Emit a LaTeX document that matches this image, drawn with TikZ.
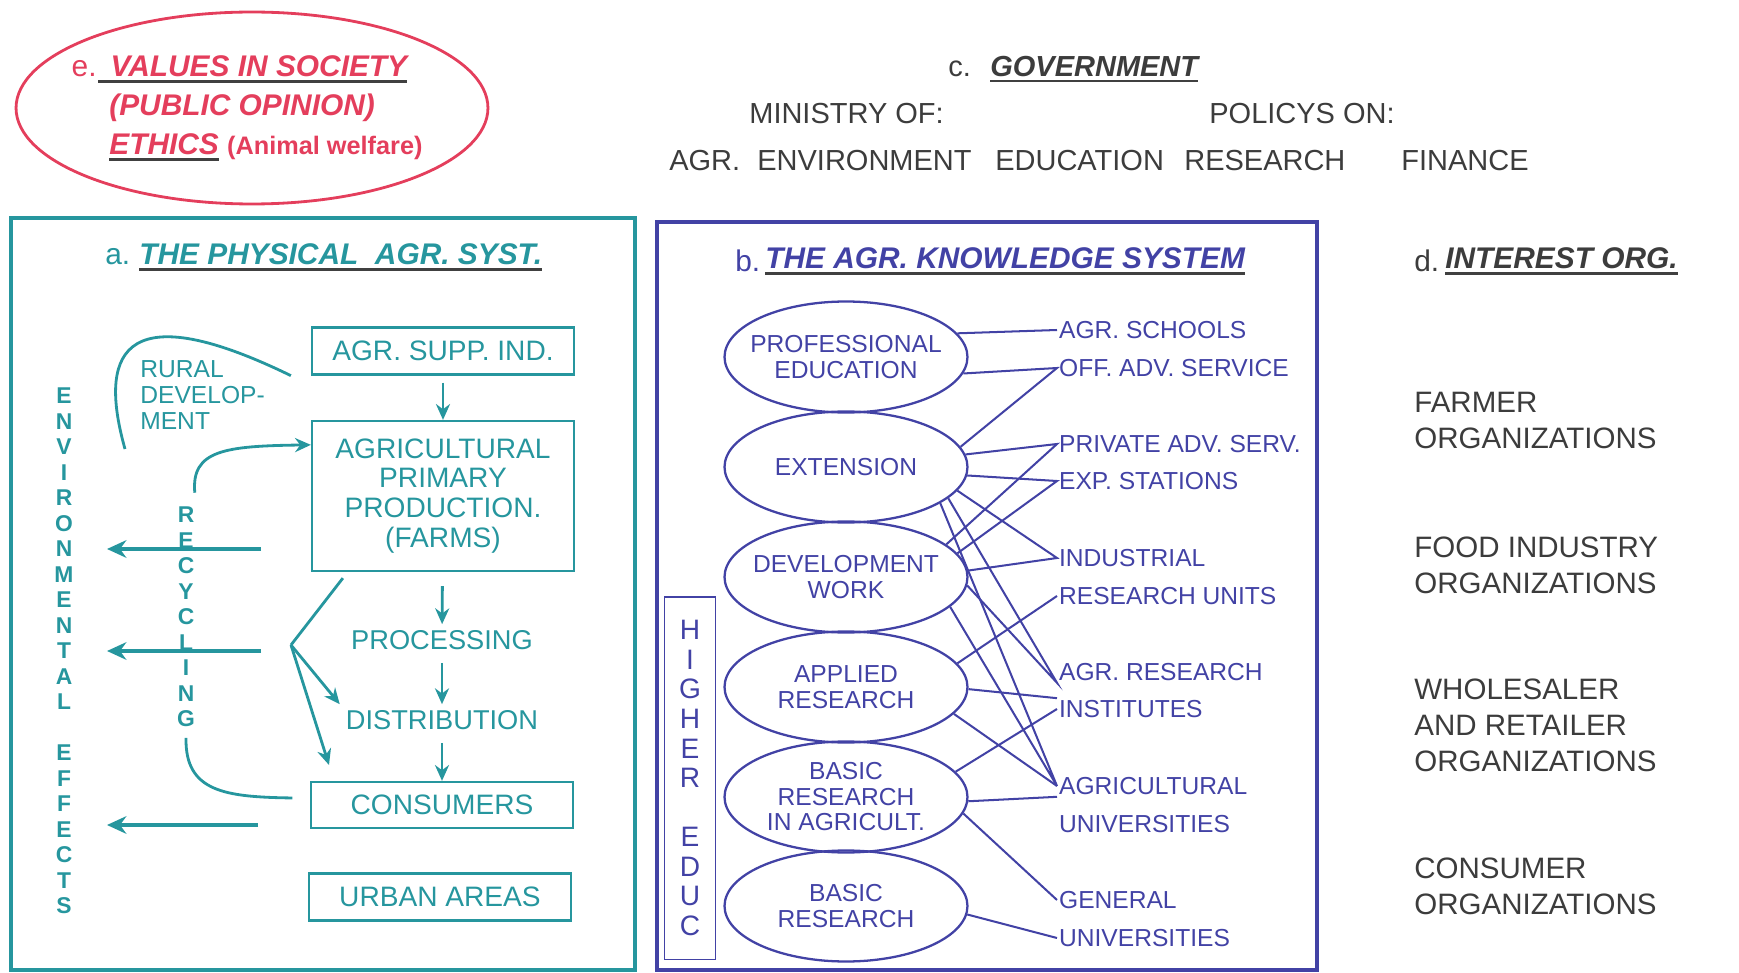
\documentclass[tikz,border=0pt]{standalone}
\usepackage{fontspec}
\setmainfont{Liberation Sans}
\usepackage{tikz}
\usetikzlibrary{shapes.geometric,arrows.meta}

\definecolor{tealc}{RGB}{38,150,158}
\definecolor{bluec}{RGB}{66,66,165}
\definecolor{redc}{RGB}{228,62,92}
\definecolor{grayc}{RGB}{60,60,60}

\newcommand{\fsz}[2]{\fontsize{#1}{#2}\selectfont}
\newcommand{\ulined}[1]{\setbox0\hbox{#1}\rlap{\color{black!75}\rule[-3.5pt]{\wd0}{1.4pt}}\box0}

\tikzset{
	govtext/.style={anchor=west, inner sep=0pt, text=grayc, font=\fsz{16.5}{20}},
	physbox/.style={draw=tealc, line width=1.3pt, text=tealc, minimum width=5.24cm, minimum height=0.94cm, inner sep=0pt, align=center, font=\fsz{16}{17}},
	physflow/.style={->, draw=tealc, line width=1.6pt, shorten <=4pt},
	effect/.style={-{Stealth[length=11pt,width=10pt]}, draw=tealc, line width=2.2pt},
	knowell/.style={ellipse, draw=bluec, line width=1.3pt, text=bluec, minimum width=4.86cm, minimum height=2.22cm, inner xsep=-0.5cm, inner ysep=0pt, align=center, font=\fsz{14}{14.5}},
	knowlabel/.style={anchor=west, inner sep=1pt, text=bluec, font=\fsz{14}{16}},
	knowlink/.style={draw=bluec, line width=1.15pt},
	orglabel/.style={anchor=west, inner sep=0pt, text=grayc, align=left, font=\fsz{16.8}{20.5}},
}

\begin{document}
\begin{tikzpicture}[x=0.02cm,y=-0.02cm,>={Stealth[length=9pt,width=8pt]}]
	\useasboundingbox (0,0) rectangle (1739,973);

	% e. values in society
	\node[ellipse, draw=redc, line width=1.6pt, minimum width=9.44cm, minimum height=3.84cm] (values) at (252,108) {};
	\node[anchor=east, inner sep=0pt, text=redc, font=\fsz{17}{20}] (etag) at (97,69) {e.};
	\node[anchor=west, inner sep=0pt, text=redc, font=\fsz{17}{20}\bfseries\itshape] (evalues) at (98,69) {\ulined{\hspace*{7pt}VALUES IN SOCIETY}};
	\node[anchor=west, inner sep=0pt, text=redc, font=\fsz{17}{20}\bfseries\itshape] (eopinion) at (109,108) {(PUBLIC OPINION)};
	\node[anchor=west, inner sep=0pt, text=redc, font=\fsz{17}{20}\bfseries] (eethics) at (109,147) {\ulined{\itshape ETHICS}\ {\fsz{14.4}{17}(Animal welfare)}};

	% c. government
	\node[govtext] (ctag) at (948,69) {c.};
	\node[govtext] (cgov) at (990,69) {\ulined{\bfseries\itshape GOVERNMENT}};
	\node[govtext] (ministry) at (749,114) {MINISTRY OF:};
	\node[govtext] (policy) at (1209,114) {POLICYS ON:};
	\node[govtext] (magr) at (669,161) {AGR.};
	\node[govtext] (menv) at (757,161) {ENVIRONMENT};
	\node[govtext] (medu) at (995,161) {EDUCATION};
	\node[govtext] (mres) at (1184,161) {RESEARCH};
	\node[govtext] (mfin) at (1401,161) {FINANCE};

	% a. physical system
	\draw[tealc, line width=2pt] (11,218) rectangle (635,970);
	\node[anchor=west, inner sep=0pt, text=tealc, font=\fsz{17}{20}] (atag) at (105,257) {a.};
	\node[anchor=west, inner sep=0pt, text=tealc, font=\fsz{17}{20}\bfseries\itshape] (atitle) at (139,257) {\ulined{THE PHYSICAL\ \ AGR. SYST.}};

	\node[physbox] (supp) at (443,351) {AGR. SUPP. IND.};
	\node[physbox, minimum height=3cm] (prim) at (443,496) {AGRICULTURAL\\PRIMARY\\PRODUCTION.\\(FARMS)};
	\node[text=tealc, font=\fsz{15.5}{17}] (proc) at (442,640) {PROCESSING};
	\node[text=tealc, font=\fsz{15.5}{17}] (dist) at (442,720) {DISTRIBUTION};
	\node[physbox, minimum height=0.92cm] (cons) at (442,805) {CONSUMERS};
	\node[physbox] (urban) at (440,897) {URBAN AREAS};

	\draw[physflow] (supp) -- (prim);
	\draw[physflow, shorten <=8pt] (prim) -- (proc);
	\draw[physflow] (proc) -- (dist);
	\draw[physflow] (dist) -- (cons);

	\node[anchor=west, align=left, inner sep=0pt, text=tealc, font=\fsz{14}{14.8}] (rural) at (140,395) {RURAL\\DEVELOP-\\MENT};
	\coordinate (ruralstart) at (125,449);
	\draw[tealc, line width=1.6pt] (ruralstart) .. controls (100,360) and (115,290) .. ([xshift=-0.4cm]supp.south west);

	\node[align=center, inner sep=0pt, text=tealc, font=\fsz{13}{14.5}\bfseries] (envtext) at (64,651) {E\\N\\V\\I\\R\\O\\N\\M\\E\\N\\T\\A\\L\\[14.5pt]E\\F\\F\\E\\C\\T\\S};
	\node[align=center, inner sep=0pt, text=tealc, font=\fsz{13}{14.5}\bfseries] (recyc) at (186,617) {R\\E\\C\\Y\\C\\L\\I\\N\\G};

	\draw[->, tealc, line width=1.6pt] ([xshift=5pt,yshift=8pt]recyc.north) .. controls (191,450) and (225,446) .. ([yshift=-0.5cm]prim.north west);
	\draw[tealc, line width=1.6pt] ([yshift=-6pt]recyc.south) .. controls (185,792) and (225,797) .. ([xshift=-10pt,yshift=4pt]cons.west);

	\coordinate (fork) at (291,645);
	\coordinate (forkend) at (329,765);
	\draw[tealc, line width=1.6pt] ([xshift=0.64cm,yshift=-0.12cm]prim.south west) -- (fork);
	\draw[->, tealc, line width=1.6pt] (fork) -- (dist.north west);
	\draw[->, tealc, line width=1.6pt] (fork) -- (forkend);

	\coordinate (effA) at (261,549);
	\coordinate (effB) at (261,651);
	\coordinate (effC) at (258,825);
	\draw[effect] (effA) -- ++(-154,0);
	\draw[effect] (effB) -- ++(-154,0);
	\draw[effect] (effC) -- ++(-151,0);

	% b. knowledge system
	\draw[bluec, line width=2.2pt] (657,222) rectangle (1317,970);
	\node[anchor=west, inner sep=0pt, text=bluec, font=\fsz{17}{20}] (btag) at (735,261) {b.};
	\node[anchor=west, inner sep=0pt, text=bluec, font=\fsz{17}{20}\bfseries\itshape] (btitle) at (765,261) {\ulined{THE AGR. KNOWLEDGE SYSTEM}};

	\node[draw=bluec, line width=1.1pt, minimum width=1.02cm, minimum height=7.26cm, inner sep=0pt, align=center, text=bluec, font=\fsz{16}{16.8}] (higher) at (690,778) {H\\I\\G\\H\\E\\R\\[16.8pt]E\\D\\U\\C};

	\node[knowell] (profed) at (846,357) {PROFESSIONAL\\EDUCATION};
	\node[knowell] (ext) at (846,467) {EXTENSION};
	\node[knowell] (devw) at (846,577) {DEVELOPMENT\\WORK};
	\node[knowell] (appres) at (846,687) {APPLIED\\RESEARCH};
	\node[knowell] (basagr) at (846,797) {BASIC\\RESEARCH\\IN AGRICULT.};
	\node[knowell] (basres) at (846,906) {BASIC\\RESEARCH};

	\node[knowlabel] (agrsch) at (1057,330) {AGR. SCHOOLS};
	\node[knowlabel] (offadv) at (1057,368) {OFF. ADV. SERVICE};
	\node[knowlabel] (privadv) at (1057,444) {PRIVATE ADV. SERV.};
	\node[knowlabel] (expst) at (1057,481) {EXP. STATIONS};
	\node[knowlabel] (indus) at (1057,558) {INDUSTRIAL};
	\node[knowlabel] (resunit) at (1057,596) {RESEARCH UNITS};
	\node[knowlabel] (agrres) at (1057,672) {AGR. RESEARCH};
	\node[knowlabel] (instit) at (1057,709) {INSTITUTES};
	\node[knowlabel] (agruni) at (1057,786) {AGRICULTURAL};
	\node[knowlabel] (agrunib) at (1057,824) {UNIVERSITIES};
	\node[knowlabel] (genuni) at (1057,900) {GENERAL};
	\node[knowlabel] (genunib) at (1057,938) {UNIVERSITIES};

	\draw[knowlink] (profed.12) -- (agrsch.west);
	\draw[knowlink] (profed.-8) -- (offadv.west) -- (ext.10);
	\draw[knowlink] (ext.6) -- (privadv.west) -- (devw.18);
	\draw[knowlink] (ext.-4) -- (expst.west) -- (devw.12);
	\draw[knowlink] (ext.-12) -- (indus.west) -- (devw.3);
	\draw[knowlink] (resunit.west) -- (appres.12);
	\draw[knowlink] (ext.-17) -- (agrres.south west) -- (devw.-4);
	\draw[knowlink] (ext.-21) -- (agruni.west) -- (devw.-16);
	\draw[knowlink] (appres.-14) -- (agruni.west);
	\draw[knowlink] (appres.-1) -- (instit.north west);
	\draw[knowlink] (instit.west) -- (basagr.13);
	\draw[knowlink] (basagr.-2) -- (agruni.south west);
	\draw[knowlink] (basagr.-8) -- (genuni.west);
	\draw[knowlink] (basres.-4) -- (genunib.west);

	% d. interest organizations
	\node[anchor=west, inner sep=0pt, text=grayc, font=\fsz{17}{20}] (dtag) at (1414,261) {d.};
	\node[anchor=west, inner sep=0pt, text=grayc, font=\fsz{17}{20}\bfseries\itshape] (dtitle) at (1445,261) {\ulined{INTEREST ORG.}};

	\node[orglabel] (farmorg) at (1414,420) {FARMER\\ORGANIZATIONS};
	\node[orglabel] (foodorg) at (1414,565) {FOOD INDUSTRY\\ORGANIZATIONS};
	\node[orglabel] (wholorg) at (1414,725) {WHOLESALER\\AND RETAILER\\ORGANIZATIONS};
	\node[orglabel] (consorg) at (1414,886) {CONSUMER\\ORGANIZATIONS};

\end{tikzpicture}
\end{document}
